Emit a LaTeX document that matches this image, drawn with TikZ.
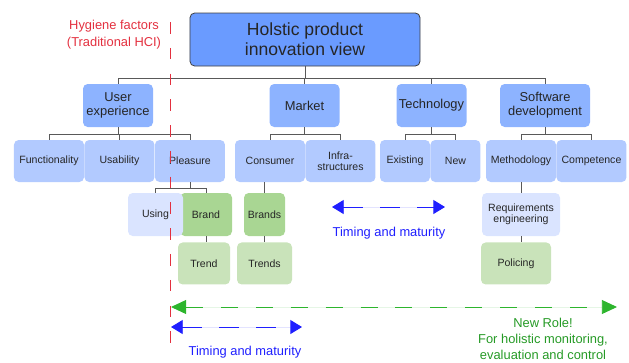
\documentclass[tikz,border=0pt]{standalone}
\usepackage{fontspec}
\setmainfont{Liberation Sans}
\usetikzlibrary{arrows.meta, positioning}

\definecolor{viewblue}{HTML}{6A9BFF}
\definecolor{areablue}{HTML}{8DB3FF}
\definecolor{aspectblue}{HTML}{B2CAFF}
\definecolor{paleblue}{HTML}{DAE4FF}
\definecolor{brandgreen}{HTML}{A9D693}
\definecolor{trendgreen}{HTML}{C9E3BA}
\definecolor{hcired}{HTML}{E3303F}
\definecolor{timingblue}{HTML}{1F1FFF}
\definecolor{rolegreen}{HTML}{2DB52D}

\begin{document}
\begin{tikzpicture}[
        x=0.03cm, y=-0.03cm,
        topbox/.style={rectangle, draw=black!75, line width=0.7pt, fill=viewblue, rounded corners=4pt,
                minimum width=6.9cm, minimum height=1.59cm, align=center, text=black!85,
                font=\fontsize{15}{17}\selectfont},
        areabox/.style={rectangle, fill=areablue, rounded corners=4pt, minimum width=2.1cm,
                minimum height=1.29cm, inner sep=1pt, align=center, text=black!85,
                font=\fontsize{11}{12}\selectfont},
        aspectbox/.style={rectangle, fill=aspectblue, rounded corners=4pt, minimum width=2.1cm,
                minimum height=1.26cm, inner sep=1pt, align=center, text=black!85,
                font=\fontsize{9}{9.5}\selectfont},
        usebox/.style={aspectbox, fill=paleblue, minimum width=1.65cm, minimum height=1.29cm},
        brandbox/.style={aspectbox, fill=brandgreen, minimum width=1.56cm, minimum height=1.29cm},
        trendbox/.style={aspectbox, fill=trendgreen, minimum width=1.56cm},
        link/.style={-, draw=black!65, line width=0.6pt},
        divider/.style={-, draw=hcired, line width=0.8pt, dash pattern=on 10pt off 12pt},
        timing/.style={{Triangle[length=10pt,width=12pt]}-{Triangle[length=10pt,width=12pt]},
                draw=timingblue, fill=timingblue, line width=0.8pt, dash pattern=on 17pt off 14.5pt},
        role/.style={{Triangle[length=13pt,width=12pt]}-{Triangle[length=13pt,width=12pt]},
                draw=rolegreen, fill=rolegreen, line width=0.8pt, dash pattern=on 14.5pt off 15.3pt},
        notelab/.style={align=center, font=\fontsize{11}{13.6}\selectfont}, ]

        \useasboundingbox (0,0) rectangle (629,362);

        % === ROOT ===
        \node[topbox] (view) at (305,39.5) {Holstic product\\innovation view};

        % === AREAS ===
        \node[areabox] (ux) at (118,105.5) {User\\experience};
        \node[areabox] (market) at (304.5,105.5) {Market};
        \node[areabox] (tech) at (431.5,105.5) {Technology};
        \node[areabox, minimum width=2.7cm] (sw) at (545,105.5) {Software\\development};

        \foreach \area in {ux, market, tech, sw} {
                \draw[link] (view.south) -- ++(0,12) -| (\area.north);
            }

        % === ASPECTS (one row) ===
        \node[aspectbox] (func) at (49,161) {Functionality};
        \node[aspectbox, right=0pt of func] (usab) {Usability};
        \node[aspectbox, right=0pt of usab] (pleasure) {Pleasure};
        \node[aspectbox] (consumer) at (270,161) {Consumer};
        \node[aspectbox, right=0pt of consumer] (infra) {Infra-\\structures};
        \node[aspectbox, minimum width=1.5cm] (existing) at (405,161) {Existing};
        \node[aspectbox, minimum width=1.5cm, right=0pt of existing] (new) {New};
        \node[aspectbox] (method) at (521,161) {Methodology};
        \node[aspectbox, right=0pt of method] (compet) {Competence};

        \foreach \kid in {func, usab, pleasure} {
                \draw[link] (ux.south) -- ++(0,7) -| (\kid.north);
            }
        \foreach \kid in {consumer, infra} {
                \draw[link] (market.south) -- ++(0,7) -| (\kid.north);
            }
        \foreach \kid in {existing, new} {
                \draw[link] (tech.south) -- ++(0,7) -| (\kid.north);
            }
        \foreach \kid in {method, compet} {
                \draw[link] (sw.south) -- ++(0,7) -| (\kid.north);
            }

        % === DETAILS ===
        \node[brandbox] (brand) at (206,214.5) {Brand};
        \node[usebox] (using) at (155.5,214.5) {Using};
        \node[brandbox, minimum width=1.23cm] (brands) at (264.5,214.5) {Brands};
        \node[usebox, minimum width=2.34cm] (reqeng) at (521,214.5) {Requirements\\engineering};

        \node[trendbox, below=0.18cm of brand, xshift=-0.06cm] (trend) {Trend};
        \node[trendbox, minimum width=1.65cm, below=0.18cm of brands] (trends) {Trends};
        \node[trendbox, minimum width=2.1cm, below=0.18cm of reqeng, xshift=-0.15cm] (policing) {Policing};

        \foreach \kid in {using, brand} {
                \draw[link] (pleasure.south) -- ++(0,6) -| (\kid.north);
            }
        \draw[link] (brands.north) -- (brands.north |- consumer.south);
        \draw[link] (reqeng.north) -- (reqeng.north |- method.south);
        \draw[link] (brand.south) -- (brand.south |- trend.north);
        \draw[link] (brands.south) -- (brands.south |- trends.north);
        \draw[link] (reqeng.south) -- (reqeng.south |- policing.north);

        % === HCI BORDER ===
        \coordinate (hcitop) at (170,22);
        \coordinate (hcibot) at (170,357);
        \draw[divider] (hcitop) -- (hcibot);
        \node[notelab, text=hcired, font=\fontsize{11}{14.5}\selectfont] (hygiene) at (114,35)
            {Hygiene factors\\(Traditional HCI)};

        % === TIMING / ROLE ARROWS ===
        \coordinate (marketL) at (332,207);
        \coordinate (marketR) at (445,207);
        \draw[timing] (marketL) -- (marketR);
        \node[notelab, text=timingblue] (marketlab) at (389,233) {Timing and maturity};

        \coordinate (roleL) at (171,307);
        \coordinate (roleR) at (617,307);
        \draw[role] (roleL) -- (roleR);
        \node[notelab, text=rolegreen!85!black] (rolelab) at (543,339)
            {New Role!\\For holistic monitoring,\\evaluation and control};

        \coordinate (hciL) at (171,327);
        \coordinate (hciR) at (302,327);
        \draw[timing] (hciL) -- (hciR);
        \node[notelab, text=timingblue] (hcilab) at (245,352) {Timing and maturity};
    \end{tikzpicture}
\end{document}
